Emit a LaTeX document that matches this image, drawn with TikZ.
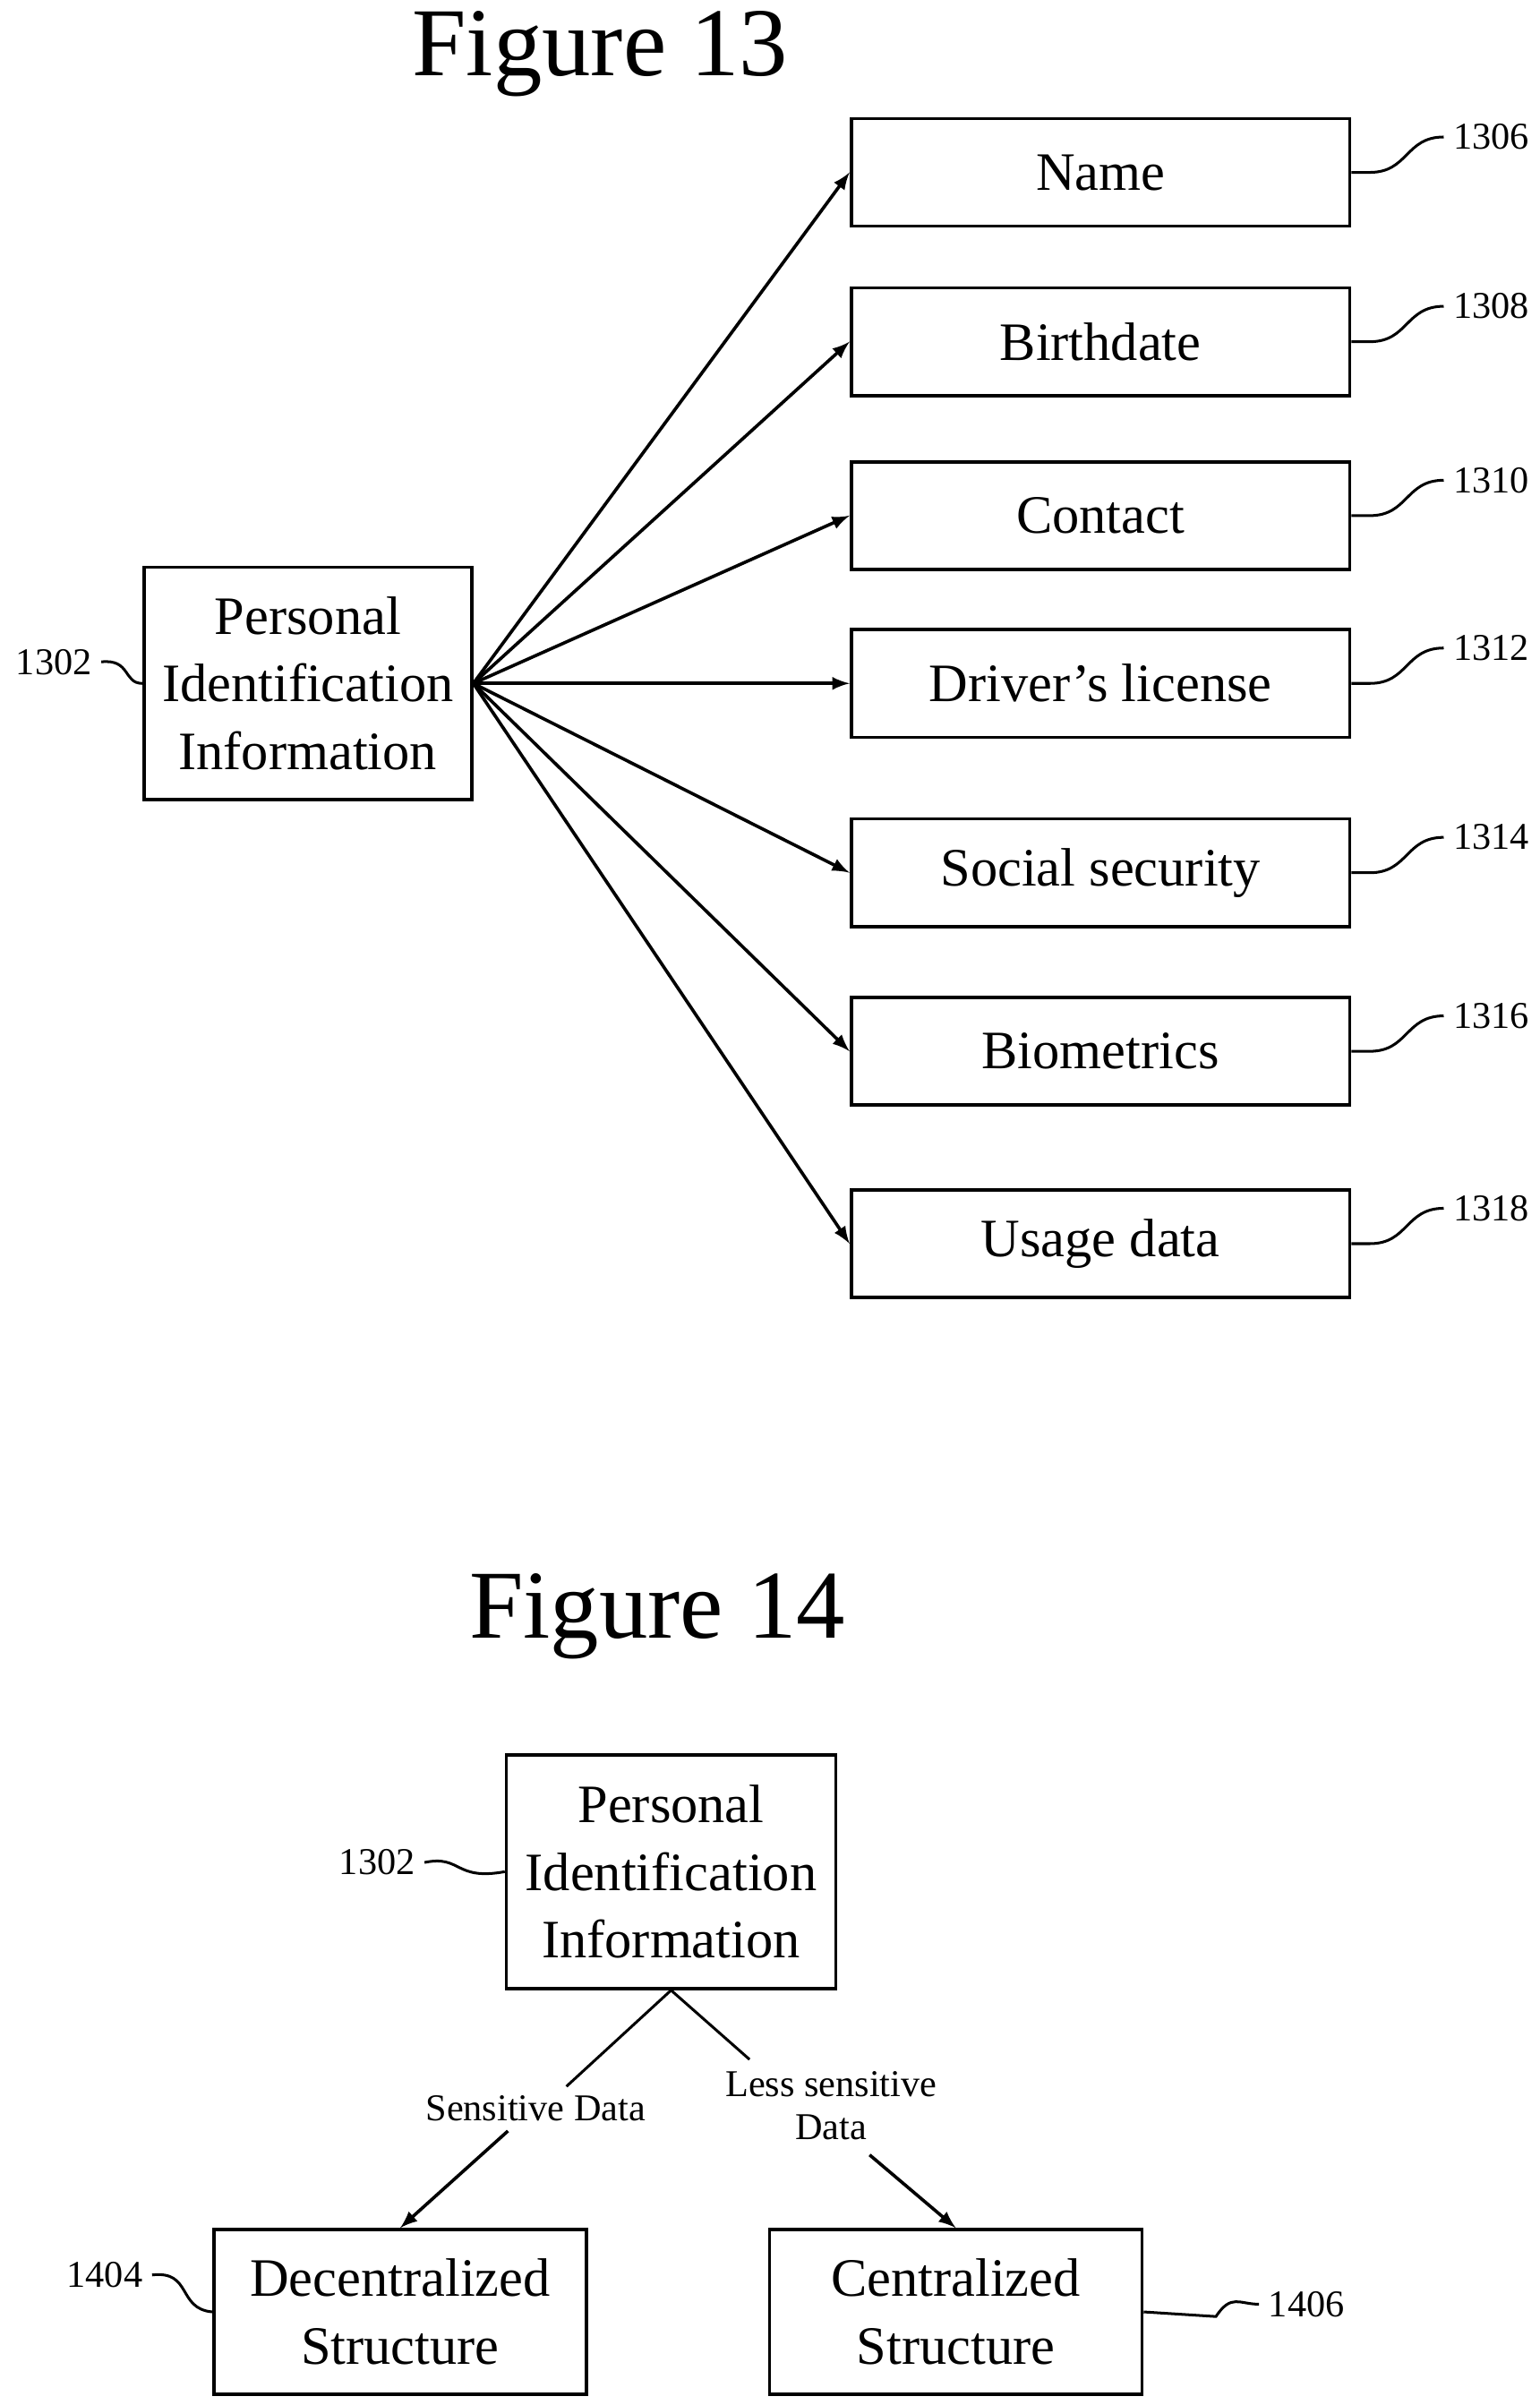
\documentclass[tikz,border=0pt]{standalone}
\usepackage{fontspec}
\setmainfont{Liberation Serif}
\usetikzlibrary{calc}
\begin{document}
\begin{tikzpicture}[x=0.02cm,y=-0.02cm,
  box/.style={draw,line width=1.2pt,align=center,font=\fontsize{20}{25}\selectfont},
  item/.style={box,minimum width=6.48cm,minimum height=1.4cm},
  refl/.style={font=\fontsize{14}{16}\selectfont},
  arr/.style={-latex,line width=1.2pt},
  lead/.style={line width=1pt}]
  \useasboundingbox (0,0) rectangle (1000,1562.5);

  % Figure 13
  \node[font=\fontsize{36}{40}\selectfont] (t13) at (390,35) {Figure 13};
  \node[box,minimum width=4.26cm,minimum height=3.02cm] (pii) at (200,444) {Personal\\Identification\\Information};
  \node[refl] (r1302) at (35,430) {1302};
  \draw[lead] (r1302.east) .. controls (85,428) and (80,444) .. (pii.west);

  \foreach \name/\txt/\y/\num in {name/Name/112/1306, birth/Birthdate/222/1308,
      contact/Contact/335/1310, lic/Driver’s license/444/1312,
      ssn/Social security/567/1314, bio/Biometrics/683/1316, usage/Usage data/808/1318} {
    \node[item] (\name) at (715,\y) {\txt};
    \node[refl,anchor=west] (r\num) at (938,\y-23) {\num};
    \draw[lead] (\name.east) -- ++(12,0) .. controls ++(25,0) and ($(r\num.west)+(-25,0)$) .. (r\num.west);
    \draw[arr] (pii.east) -- (\name.west);
  }

  % Figure 14
  \node[font=\fontsize{36}{40}\selectfont] (t14) at (427,1050) {Figure 14};
  \node[box,minimum width=4.28cm,minimum height=3.04cm] (pii2) at (436,1216) {Personal\\Identification\\Information};
  \node[refl] (r1302b) at (245,1210) {1302};
  \draw[lead] (r1302b.east) .. controls (300,1205) and (295,1222) .. (pii2.west);

  \node[box,minimum width=4.84cm,minimum height=2.14cm] (dec) at (260,1502) {Decentralized\\Structure};
  \node[box,minimum width=4.84cm,minimum height=2.14cm] (cen) at (621,1502) {Centralized\\Structure};
  \node[refl] (r1404) at (68,1478) {1404};
  \draw[lead] (r1404.east) .. controls (125,1475) and (115,1500) .. (dec.west);
  \node[refl,anchor=west] (r1406) at (818,1497) {1406};
  \draw[lead] (cen.east) -- (790,1505) .. controls (800,1490) and (805,1497) .. (r1406.west);

  \node[refl] (ls) at (348,1370) {Sensitive Data};
  \node[refl,align=center] (lr) at (540,1368) {Less sensitive\\Data};
  \draw[lead] (pii2.south) -- (ls.north -| 368,0);
  \draw[arr] (ls.south -| 330,0) -- (dec.north);
  \draw[lead] (pii2.south) -- (487,1338);
  \draw[arr] (565,1400) -- (cen.north);
\end{tikzpicture}
\end{document}
